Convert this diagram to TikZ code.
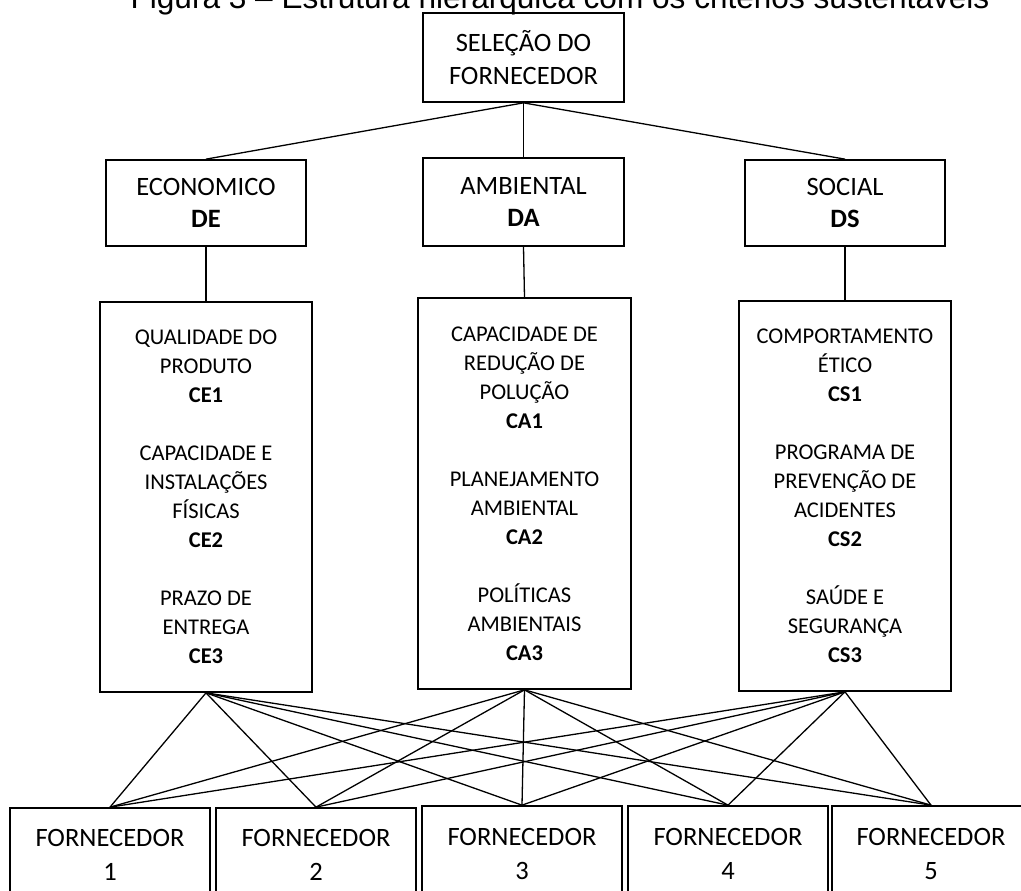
\documentclass[tikz,border=0pt]{standalone}
\usepackage{fontspec}
\setmainfont{Carlito}
\newfontfamily\titlefont{Liberation Sans}
\newcommand{\mybigfont}{\fontsize{26.5}{32.5}\selectfont}
\newcommand{\mysmallfont}{\fontsize{22.5}{29}\selectfont}
\newcommand{\myfornfont}{\fontsize{26.5}{34}\selectfont}
\begin{document}
\begin{tikzpicture}[x=1pt,y=-1pt,
  box/.style={draw, line width=1.7pt, inner sep=0pt, align=center},
  bigbox/.style={box, font=\mybigfont},
  critbox/.style={box, font=\mysmallfont},
  fornbox/.style={box, font=\myfornfont},
  conn/.style={line width=1.3pt}]
\clip (0,0) rectangle (1021,891);
% title (cut off at the top as in the reference)
\node[font=\titlefont\fontsize{31.6}{36}\selectfont, anchor=base, inner sep=0pt] (title) at (560,9) {Figura 3 – Estrutura hierárquica com os critérios sustentáveis};
% top
\node[bigbox, minimum width=201pt, minimum height=89pt] (sel) at (523.5,57.5) {SELEÇÃO DO\\FORNECEDOR};
% dimensions
\node[bigbox, minimum width=200pt, minimum height=86pt] (eco) at (206,203) {ECONOMICO\\\textbf{DE}};
\node[bigbox, minimum width=201pt, minimum height=88pt] (amb) at (523.5,202) {AMBIENTAL\\\textbf{DA}};
\node[bigbox, minimum width=200pt, minimum height=86pt] (soc) at (845,203) {SOCIAL\\\textbf{DS}};
% criteria
\node[critbox, minimum width=212pt, minimum height=390pt] (ce) at (206,497)
 {QUALIDADE DO\\PRODUTO\\\textbf{CE1}\\[29pt]CAPACIDADE E\\INSTALAÇÕES\\FÍSICAS\\\textbf{CE2}\\[29pt]PRAZO DE\\ENTREGA\\\textbf{CE3}};
\node[critbox, minimum width=213pt, minimum height=391pt] (ca) at (524.5,493.5)
 {CAPACIDADE DE\\REDUÇÃO DE\\POLUÇÃO\\\textbf{CA1}\\[29pt]PLANEJAMENTO\\AMBIENTAL\\\textbf{CA2}\\[29pt]POLÍTICAS\\AMBIENTAIS\\\textbf{CA3}};
\node[critbox, minimum width=212pt, minimum height=390pt] (cs) at (845,496)
 {COMPORTAMENTO\\ÉTICO\\\textbf{CS1}\\[29pt]PROGRAMA DE\\PREVENÇÃO DE\\ACIDENTES\\\textbf{CS2}\\[29pt]SAÚDE E\\SEGURANÇA\\\textbf{CS3}};
% suppliers
\node[fornbox, minimum width=200pt, minimum height=94pt] (f1) at (110,855) {FORNECEDOR\\1};
\node[fornbox, minimum width=200pt, minimum height=94pt] (f2) at (316,855) {FORNECEDOR\\2};
\node[fornbox, minimum width=200pt, minimum height=96pt] (f3) at (522,854) {FORNECEDOR\\3};
\node[fornbox, minimum width=200pt, minimum height=96pt] (f4) at (728,854) {FORNECEDOR\\4};
\node[fornbox, minimum width=198pt, minimum height=96pt] (f5) at (931,854) {FORNECEDOR\\5};
% connectors
\foreach \d in {eco,amb,soc} \draw[conn] (sel.south) -- (\d.north);
\draw[conn] (eco.south) -- (ce.north);
\draw[conn] (amb.south) -- (ca.north);
\draw[conn] (soc.south) -- (cs.north);
\foreach \c in {ce,ca,cs}
  \foreach \f in {f1,f2,f3,f4,f5}
    \draw[conn] (\c.south) -- (\f.north);
\end{tikzpicture}
\end{document}
